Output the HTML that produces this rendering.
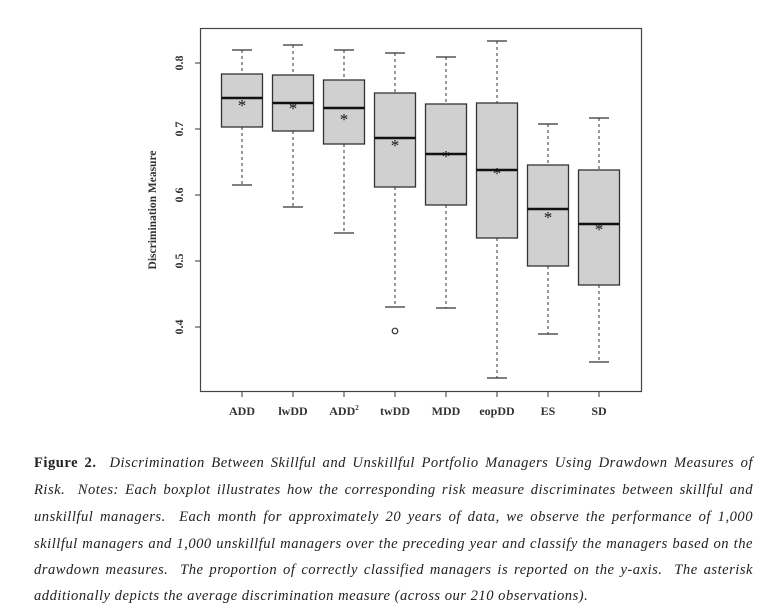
<!DOCTYPE html>
<html><head><meta charset="utf-8"><style>
body{margin:0;width:768px;height:614px;background:#fff;position:relative;overflow:hidden}
.l{position:absolute;left:34px;width:719px;font-family:"Liberation Serif",serif;font-style:italic;font-size:14.6px;letter-spacing:0.5px;color:#222;text-align:justify;text-align-last:justify;white-space:nowrap;line-height:16px}
.l.last{text-align-last:left}
b{font-style:normal}
</style></head><body>
<svg width="768" height="440" style="position:absolute;left:0;top:0" font-family="Liberation Serif,serif">
<rect x="200.5" y="28.5" width="441" height="363" fill="none" stroke="#444" stroke-width="1.2"/>
<g stroke="#333" stroke-width="1">
<line x1="195" x2="200" y1="63" y2="63"/><line x1="195" x2="200" y1="129" y2="129"/><line x1="195" x2="200" y1="195" y2="195"/><line x1="195" x2="200" y1="261" y2="261"/><line x1="195" x2="200" y1="327" y2="327"/>
<line x1="242" x2="242" y1="392" y2="397"/><line x1="293" x2="293" y1="392" y2="397"/><line x1="344" x2="344" y1="392" y2="397"/><line x1="395" x2="395" y1="392" y2="397"/><line x1="446" x2="446" y1="392" y2="397"/><line x1="497" x2="497" y1="392" y2="397"/><line x1="548" x2="548" y1="392" y2="397"/><line x1="599" x2="599" y1="392" y2="397"/>
</g>
<g font-size="12" font-weight="bold" fill="#333" text-anchor="middle">
<text transform="translate(183,63) rotate(-90)">0.8</text>
<text transform="translate(183,129) rotate(-90)">0.7</text>
<text transform="translate(183,195) rotate(-90)">0.6</text>
<text transform="translate(183,261) rotate(-90)">0.5</text>
<text transform="translate(183,327) rotate(-90)">0.4</text>
<text transform="translate(156,210) rotate(-90)" font-size="11.5">Discrimination Measure</text>
<text x="242" y="415">ADD</text><text x="293" y="415">lwDD</text><text x="344" y="415">ADD<tspan font-size="7" dy="-5">2</tspan></text><text x="395" y="415">twDD</text><text x="446" y="415">MDD</text><text x="497" y="415">eopDD</text><text x="548" y="415">ES</text><text x="599" y="415">SD</text>
</g>
<g id="boxes"></g>
</svg>
<script>
var d=[[242,50,74,98,127,185,104],[293,45,75,103,131,207,107],[344,50,80,108,144,233,118],[395,53,93,138,187,307,144],[446,57,104,154,205,308,155],[497,41,103,170,238,378,172],[548,124,165,209,266,334,216],[599,118,170,224,285,362,228]];
var s='';
d.forEach(function(b){var x=b[0];
s+='<line x1="'+x+'" x2="'+x+'" y1="'+b[1]+'" y2="'+b[2]+'" stroke="#333" stroke-dasharray="3,3"/>';
s+='<line x1="'+x+'" x2="'+x+'" y1="'+b[4]+'" y2="'+b[5]+'" stroke="#333" stroke-dasharray="3,3"/>';
s+='<line x1="'+(x-10)+'" x2="'+(x+10)+'" y1="'+b[1]+'" y2="'+b[1]+'" stroke="#333" stroke-width="1.3"/>';
s+='<line x1="'+(x-10)+'" x2="'+(x+10)+'" y1="'+b[5]+'" y2="'+b[5]+'" stroke="#333" stroke-width="1.3"/>';
s+='<rect x="'+(x-20.5)+'" y="'+b[2]+'" width="41" height="'+(b[4]-b[2])+'" fill="#d0d0d0" stroke="#333" stroke-width="1.3"/>';
s+='<line x1="'+(x-20.5)+'" x2="'+(x+20.5)+'" y1="'+b[3]+'" y2="'+b[3]+'" stroke="#111" stroke-width="2.6"/>';
s+='<text x="'+x+'" y="'+(b[6]+7)+'" text-anchor="middle" font-size="17" fill="#111">*</text>';
});
s+='<circle cx="395" cy="331" r="2.8" fill="none" stroke="#333" stroke-width="1.2"/>';
document.getElementById('boxes').innerHTML=s;
</script>
<div class="l" style="top:455px"><b style="font-weight:bold">Figure 2.</b>&nbsp; Discrimination Between Skillful and Unskillful Portfolio Managers Using Drawdown Measures of</div>
<div class="l" style="top:482px">Risk. &nbsp;Notes: Each boxplot illustrates how the corresponding risk measure discriminates between skillful and</div>
<div class="l" style="top:509px">unskillful managers. &nbsp;Each month for approximately 20 years of data, we observe the performance of 1,000</div>
<div class="l" style="top:536px">skillful managers and 1,000 unskillful managers over the preceding year and classify the managers based on the</div>
<div class="l" style="top:562px">drawdown measures. &nbsp;The proportion of correctly classified managers is reported on the y-axis. &nbsp;The asterisk</div>
<div class="l last" style="top:588px">additionally depicts the average discrimination measure (across our 210 observations).</div>
</body></html>
